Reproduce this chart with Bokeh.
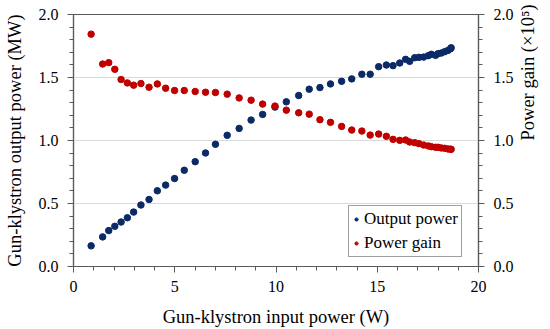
import math
from bokeh.plotting import figure
from bokeh.models import Range1d, LinearAxis, FixedTicker, Legend, LegendItem, ColumnDataSource, CustomJSTickFormatter
from bokeh.embed import file_html
from bokeh.resources import INLINE

# Data
input_power_w = [0.87, 1.44, 1.74, 2.04, 2.35, 2.66, 2.97, 3.33, 3.73, 4.14, 4.55, 4.99,
                 5.47, 6.01, 6.52, 7.01, 7.59, 8.18, 8.77, 9.34, 9.95, 10.51, 11.12, 11.64,
                 12.17, 12.69, 13.24, 13.74, 14.24, 14.65, 15.07, 15.45, 15.78, 16.11, 16.40, 16.60,
                 16.85, 17.06, 17.29, 17.52, 17.67, 17.88, 18.00, 18.16, 18.33, 18.49, 18.62, 18.65]
output_power_mw = [0.164, 0.235, 0.285, 0.319, 0.353, 0.387, 0.432, 0.488, 0.532, 0.601, 0.646, 0.698,
                   0.764, 0.832, 0.901, 0.970, 1.041, 1.096, 1.162, 1.207, 1.265, 1.307, 1.357, 1.407,
                   1.420, 1.449, 1.470, 1.489, 1.526, 1.526, 1.586, 1.599, 1.594, 1.615, 1.644, 1.628,
                   1.657, 1.660, 1.662, 1.673, 1.684, 1.676, 1.689, 1.694, 1.705, 1.715, 1.728, 1.736]
power_gain_e5 = [1.844, 1.607, 1.618, 1.565, 1.484, 1.457, 1.439, 1.452, 1.423, 1.449, 1.415, 1.397,
                 1.397, 1.389, 1.383, 1.381, 1.368, 1.338, 1.320, 1.289, 1.273, 1.241, 1.220, 1.209,
                 1.165, 1.144, 1.112, 1.083, 1.075, 1.043, 1.051, 1.033, 1.009, 1.001, 1.004, 0.988,
                 0.983, 0.975, 0.964, 0.957, 0.951, 0.946, 0.946, 0.941, 0.938, 0.933, 0.931, 0.930]

x_ticks = [0, 5, 10, 15, 20]
y_ticks = [0.0, 0.5, 1.0, 1.5, 2.0]
series_labels = ["Output power", "Power gain"]

BLUE = "#0b2a66"
RED = "#c00000"
AXIS = "#5a5a5a"
FONT = "Liberation Serif"

p = figure(width=550, height=329, output_backend="svg", toolbar_location=None,
           x_range=Range1d(0, 20), y_range=Range1d(0, 2.0),
           min_border_left=73, min_border_right=71, min_border_top=14, min_border_bottom=62)
p.extra_y_ranges = {"gain": Range1d(0, 2.0)}

src = ColumnDataSource(dict(x=input_power_w, out=output_power_mw, gain=power_gain_e5))
p.scatter("x", "out", source=src, size=6.5, fill_color=BLUE, line_color=BLUE)
p.scatter("x", "gain", source=src, size=6.5, fill_color=RED, line_color=RED, y_range_name="gain")

# legend-only renderers (smaller dots, nothing drawn in the plot)
dummy = ColumnDataSource(dict(x=[float("nan")], y=[float("nan")]))
r_leg1 = p.scatter("x", "y", source=dummy, size=4.5, fill_color=BLUE, line_color=BLUE)
r_leg2 = p.scatter("x", "y", source=dummy, size=4.5, fill_color=RED, line_color=RED)

p.outline_line_color = AXIS
p.outline_line_width = 1.2
p.background_fill_color = "white"
p.border_fill_color = "white"

p.xgrid.visible = False
p.ygrid.ticker = FixedTicker(ticks=y_ticks)
p.ygrid.grid_line_color = "#d9d9d9"
p.ygrid.grid_line_width = 1

def style_axis(ax, ticks, minor):
    ax.ticker = FixedTicker(ticks=ticks, minor_ticks=minor)
    ax.axis_line_color = AXIS
    ax.axis_line_width = 1.2
    ax.major_tick_line_color = AXIS
    ax.minor_tick_line_color = AXIS
    ax.major_tick_in = 0
    ax.minor_tick_in = 0
    ax.major_tick_out = 6
    ax.minor_tick_out = 4
    ax.major_label_text_font = FONT
    ax.major_label_text_font_size = "16px"
    ax.major_label_text_color = "black"
    ax.axis_label_text_font = FONT
    ax.axis_label_text_font_size = "18.5px"
    ax.axis_label_text_font_style = "normal"
    ax.axis_label_text_color = "black"

xb = p.xaxis[0]
style_axis(xb, x_ticks, [i for i in range(0, 21)])
xb.axis_label = "Gun-klystron input power (W)"
xb.major_label_standoff = 8
xb.axis_label_standoff = 12

yl = p.yaxis[0]
style_axis(yl, y_ticks, [round(i * 0.1, 1) for i in range(0, 21)])
yl.axis_label = "Gun-klystron output power (MW)"
yl.major_label_standoff = 9
yl.axis_label_standoff = 11
yl.formatter = CustomJSTickFormatter(code="return tick.toFixed(1);")

yr = LinearAxis(y_range_name="gain")
style_axis(yr, y_ticks, [round(i * 0.1, 1) for i in range(0, 21)])
yr.axis_label = "Power gain (\u00d710\u2075)"
yr.major_label_standoff = 9
yr.axis_label_standoff = 11
yr.axis_label_orientation = math.pi / 2
yr.axis_label_text_baseline = "bottom"
yr.formatter = CustomJSTickFormatter(code="return tick.toFixed(1);")
p.add_layout(yr, "right")

legend = Legend(items=[LegendItem(label=series_labels[0], renderers=[r_leg1]),
                       LegendItem(label=series_labels[1], renderers=[r_leg2])],
                location=(275, 9))
legend.label_text_font = FONT
legend.label_text_font_size = "17px"
legend.label_text_color = "black"
legend.glyph_width = 8
legend.glyph_height = 18
legend.label_height = 18
legend.label_standoff = 4
legend.padding = 3
legend.spacing = 4
legend.margin = 0
legend.border_line_color = "#404040"
legend.border_line_width = 1
legend.background_fill_alpha = 1
p.add_layout(legend, "center")

open("out.html", "w").write(file_html(p, INLINE))
